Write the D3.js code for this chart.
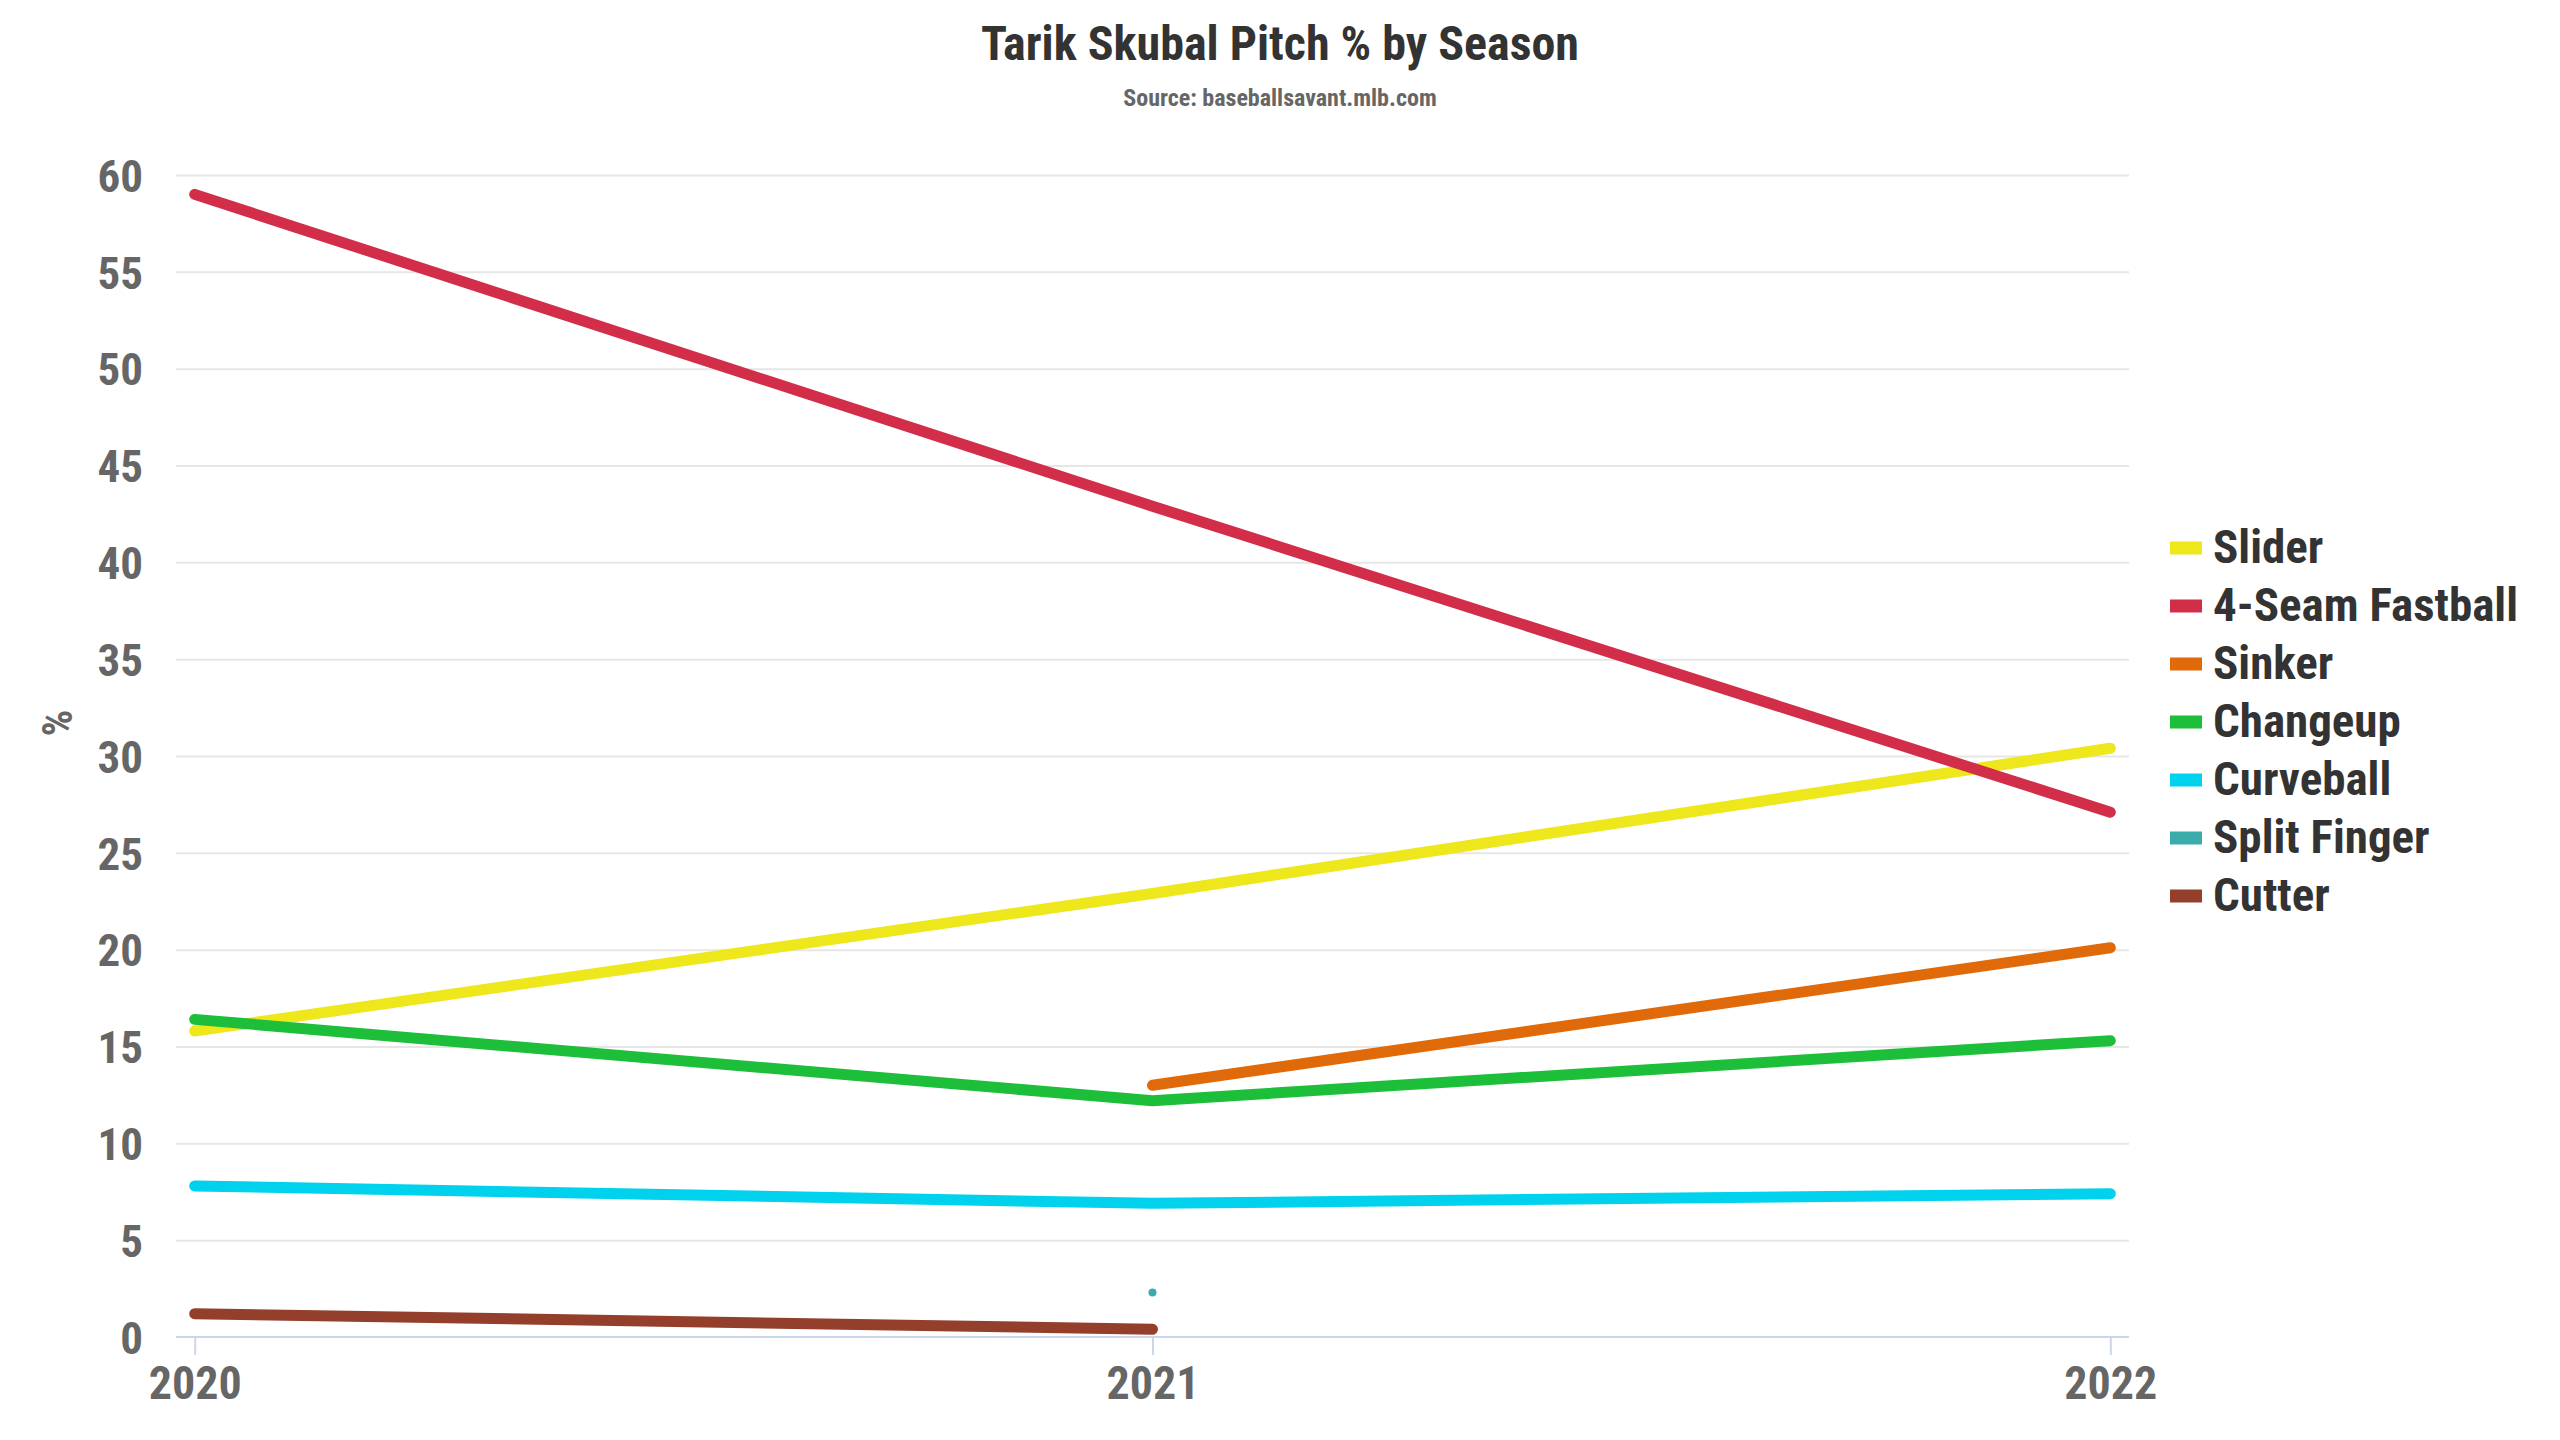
<head>
    <meta charset="utf-8">
    <style>
        body { margin: 0; background: #fff; }
        text { font-family: "Roboto Condensed", Roboto, sans-serif; font-weight: 700; font-stretch: condensed; }
    </style>
    <script src="https://cdnjs.cloudflare.com/ajax/libs/d3/7.8.5/d3.min.js"></script>
</head>
<body>
<div id="chart"></div>
<script>

    // data
    var seasons = [2020, 2021, 2022];
    var pitchTypes = ["Slider", "4-Seam Fastball", "Sinker", "Changeup", "Curveball", "Split Finger", "Cutter"];

    var slider      = [15.8, 22.9, 30.4];
    var fourSeam    = [59.0, 42.9, 27.1];
    var sinker      = [null, 13.0, 20.1];
    var changeup    = [16.4, 12.2, 15.3];
    var curveball   = [7.8, 6.9, 7.4];
    var splitFinger = [null, 2.3, null];
    var cutter      = [1.2, 0.4, null];

    var seriesValues = [slider, fourSeam, sinker, changeup, curveball, splitFinger, cutter];

    var W = 2560, H = 1440;
    var margin = {top: 175, bottom: 103, left: 176, right: 431};
    var width = W - margin.left - margin.right,
        height = H - margin.top - margin.bottom;

    var color = d3.scaleOrdinal()
        .domain(pitchTypes)
        .range(["#ede71b", "#d22d49", "#e06a0a", "#1dbe3a", "#00d1ed", "#3bacac", "#933f2c"]);

    var svg = d3.select("#chart").append("svg")
        .attr("width", W)
        .attr("height", H);

    svg.append("text")
        .attr("x", W / 2)
        .attr("y", 60)
        .attr("text-anchor", "middle")
        .attr("font-size", 48)
        .attr("fill", "#333333")
        .text("Tarik Skubal Pitch % by Season");

    svg.append("text")
        .attr("x", W / 2)
        .attr("y", 106)
        .attr("text-anchor", "middle")
        .attr("font-size", 24)
        .attr("fill", "#666666")
        .text("Source: baseballsavant.mlb.com");

    var focus = svg.append("g")
        .attr("transform", "translate(" + margin.left + "," + margin.top + ")");

    var pad = 18.7;
    var x = d3.scaleLinear()
        .domain(d3.extent(seasons))
        .range([pad, width - pad]);

    var y = d3.scaleLinear()
        .domain([0, 60])
        .range([height, 0]);

    // grid + y labels
    var yx = focus.append("g")
        .call(d3.axisLeft(y).tickValues(d3.range(5, 61, 5)).tickSize(-width).tickPadding(33).tickFormat(d3.format("d")));
    yx.select(".domain").remove();
    yx.selectAll("line").attr("stroke", "#e6e6e6").attr("stroke-width", 2);
    yx.selectAll("text")
        .attr("font-size", 45)
        .attr("fill", "#666666")
        .attr("dy", "0.36em");

    var zero = focus.append("g")
        .call(d3.axisLeft(y).tickValues([0]).tickSize(0).tickPadding(33));
    zero.select(".domain").remove();
    zero.selectAll("text").attr("font-size", 45).attr("fill", "#666666").attr("dy", "0.36em");

    // x axis
    var xx = focus.append("g")
        .attr("transform", "translate(0," + height + ")")
        .call(d3.axisBottom(x).tickValues(seasons).tickSize(18).tickPadding(11).tickFormat(d3.format("d")));
    xx.select(".domain")
        .attr("d", "M0,0H" + width)
        .attr("stroke", "#ccd6eb")
        .attr("stroke-width", 2);
    xx.selectAll("line").attr("stroke", "#ccd6eb").attr("stroke-width", 2);
    xx.selectAll("text")
        .attr("font-size", 46)
        .attr("fill", "#666666")
        .attr("dy", "0.71em");

    svg.append("text")
        .attr("transform", "translate(72,723) rotate(-90)")
        .attr("text-anchor", "middle")
        .attr("font-size", 42)
        .attr("fill", "#666666")
        .text("%");

    // lines
    var line = d3.line()
        .defined(d => d.v != null)
        .x(d => x(d.year))
        .y(d => y(d.v));

    var lines = focus.append("g");

    pitchTypes.forEach(function(name, i) {
        var pts = seasons.map((s, j) => ({year: s, v: seriesValues[i][j]}));
        var count = pts.filter(d => d.v != null).length;
        if (count > 1) {
            lines.append("path")
                .datum(pts)
                .attr("fill", "none")
                .attr("stroke", color(name))
                .attr("stroke-width", 11)
                .attr("stroke-linecap", "round")
                .attr("stroke-linejoin", "round")
                .attr("d", line);
        } else {
            lines.selectAll(null)
                .data(pts.filter(d => d.v != null))
                .join("circle")
                .attr("cx", d => x(d.year))
                .attr("cy", d => y(d.v))
                .attr("r", 4)
                .attr("fill", color(name));
        }
    });

    // legend
    var legend = svg.append("g")
        .attr("transform", "translate(2170,548)");

    var item = legend.selectAll("g")
        .data(pitchTypes)
        .join("g")
        .attr("transform", (d, i) => "translate(0," + (i * 58) + ")");

    item.append("rect")
        .attr("x", 0)
        .attr("y", -6.5)
        .attr("width", 32)
        .attr("height", 13)
        .attr("fill", d => color(d));

    item.append("text")
        .attr("x", 43)
        .attr("y", 15)
        .attr("font-size", 47)
        .attr("fill", "#333333")
        .text(d => d);

</script>
</body>
